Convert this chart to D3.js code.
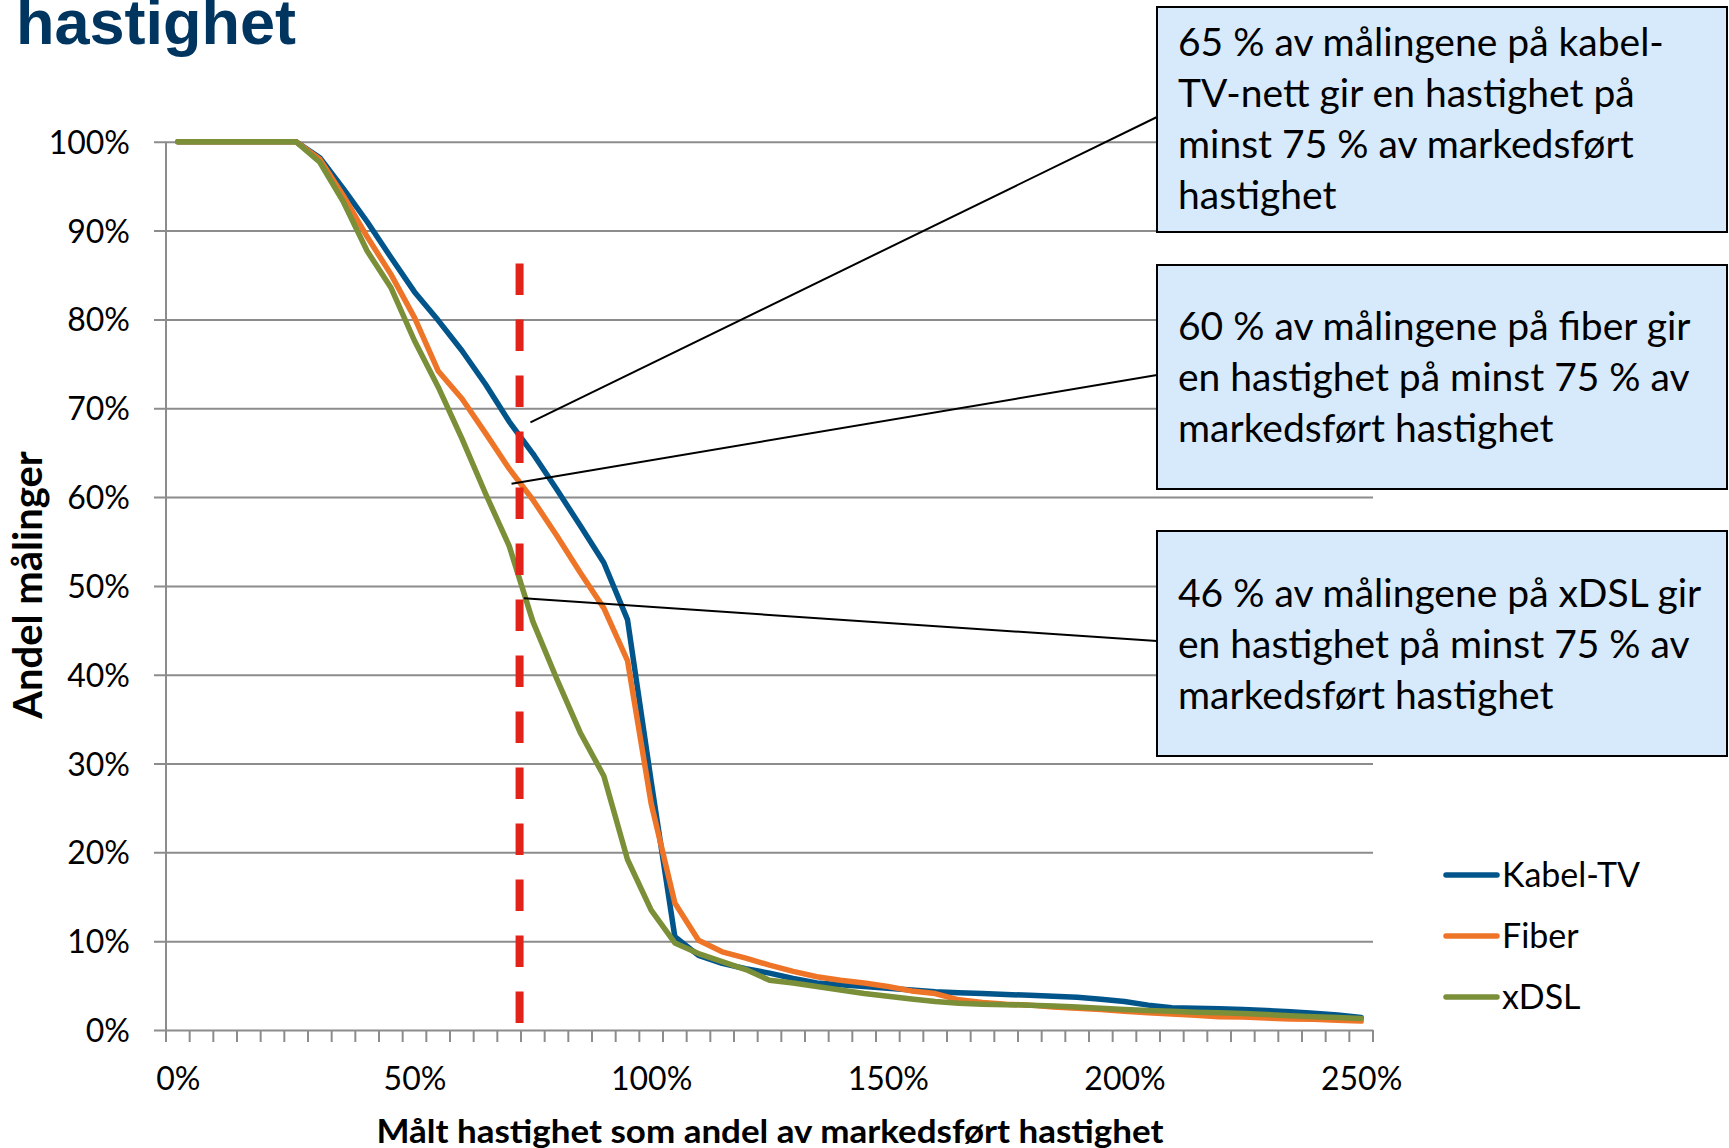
<!DOCTYPE html>
<html>
<head>
<meta charset="utf-8">
<script src="https://cdn.jsdelivr.net/npm/d3@7"></script>
<style>
  html, body { margin: 0; padding: 0; background: #ffffff; }
  svg { display: block; }
</style>
</head>
<body>
<div id="chart"></div>
<script>
// ---------------- DATA ----------------
const categories = [0,5,10,15,20,25,30,35,40,45,50,55,60,65,70,75,80,85,90,95,100,
  105,110,115,120,125,130,135,140,145,150,155,160,165,170,175,180,185,190,195,200,
  205,210,215,220,225,230,235,240,245,250];
const xTickLabels = ["0%","50%","100%","150%","200%","250%"];
const yTickLabels = ["0%","10%","20%","30%","40%","50%","60%","70%","80%","90%","100%"];
const seriesNames = ["Kabel-TV","Fiber","xDSL"];

const kabelTV = [100,100,100,100,100,100,98.2,94.7,91.0,87.0,83.1,79.9,76.5,72.7,68.5,64.9,60.9,56.8,52.6,46.2,
  28.0,10.5,8.4,7.5,6.9,6.4,5.8,5.3,5.1,4.9,4.7,4.5,4.3,4.2,4.1,4.0,3.9,3.8,3.7,3.45,
  3.2,2.8,2.5,2.45,2.4,2.3,2.2,2.05,1.9,1.7,1.4];
const fiber = [100,100,100,100,100,100,98.05,93.9,89.3,85.1,80.2,74.2,71.1,67.2,63.2,59.7,55.7,51.5,47.5,41.6,
  25.5,14.3,10.1,8.8,8.1,7.3,6.6,6.0,5.6,5.3,4.9,4.4,4.1,3.4,3.1,2.9,2.8,2.6,2.45,2.3,
  2.1,1.95,1.8,1.65,1.5,1.45,1.35,1.25,1.2,1.1,1.0];
const xdsl = [100,100,100,100,100,100,97.7,93.2,87.7,83.6,77.6,72.4,66.6,60.4,54.5,46.0,39.6,33.5,28.6,19.2,
  13.5,9.8,8.6,7.7,6.8,5.6,5.3,4.9,4.5,4.1,3.8,3.5,3.2,3.0,2.9,2.85,2.8,2.7,2.6,2.45,
  2.3,2.2,2.1,2.0,1.95,1.85,1.75,1.6,1.5,1.4,1.3];

const annotationTexts = [
  ["65 % av målingene på kabel-","TV-nett gir en hastighet på","minst 75 % av markedsført","hastighet"],
  ["60 % av målingene på fiber gir","en hastighet på minst 75 % av","markedsført hastighet"],
  ["46 % av målingene på xDSL gir","en hastighet på minst 75 % av","markedsført hastighet"]
];
// leader-line anchor points in data units (x in % of marketed speed, y in % of measurements)
const annotationAnchorX = [74.5, 70.5, 73.1];
const annotationAnchorY = [68.4, 61.5, 48.6];
// red dashed reference line (data units)
const refLineX = 72.2;
const refLineTop = 86.3;

const titleText = "hastighet";
const xTitle = "Målt hastighet som andel av markedsført hastighet";
const yTitle = "Andel målinger";

// ---------------- LAYOUT ----------------
const W = 1729, H = 1148;
const plot = {left: 166, right: 1373, top: 141.8, bottom: 1030};
const colors = ["#02558b", "#ee7427", "#7a8f37"];
const gridColor = "#8c8c8c";
const fontReg = "Lato, 'Open Sans', sans-serif";

const svg = d3.select("#chart").append("svg")
  .attr("width", W).attr("height", H).attr("viewBox", `0 0 ${W} ${H}`);

const xBand = d3.scaleBand().domain(categories).range([plot.left, plot.right]).paddingInner(0).paddingOuter(0);
const bw = xBand.bandwidth();
const xLin = d3.scaleLinear().domain([0, 250]).range([xBand(0) + bw / 2, xBand(250) + bw / 2]);
const y = d3.scaleLinear().domain([0, 100]).range([plot.bottom, plot.top]);

// Title
svg.append("text")
  .attr("x", 16).attr("y", 44)
  .attr("font-family", "'Liberation Sans', Arial, sans-serif")
  .attr("font-weight", "bold").attr("font-size", 63)
  .attr("fill", "#003560")
  .text(titleText);

// Gridlines (y axis) with outside ticks
const yTicks = d3.range(0, 101, 10);
const yAxis = d3.axisLeft(y).tickValues(yTicks)
  .tickFormat((d, i) => yTickLabels[i])
  .tickSize(-(plot.right - plot.left)).tickSizeOuter(0).tickPadding(36);
const gy = svg.append("g").attr("transform", `translate(${plot.left},0)`).call(yAxis);
gy.select(".domain").remove();
gy.selectAll(".tick line")
  .attr("x1", -12)
  .attr("stroke", gridColor).attr("stroke-width", 2);
gy.selectAll(".tick text")
  .attr("font-family", fontReg).attr("font-size", 32).attr("fill", "#000")
  .attr("x", 130 - plot.left).attr("dy", "0.36em");

// y axis line
svg.append("line")
  .attr("x1", plot.left).attr("x2", plot.left)
  .attr("y1", y(100)).attr("y2", y(0))
  .attr("stroke", gridColor).attr("stroke-width", 2);

// x axis: labels every 10 categories at band centres
const xAxis = d3.axisBottom(xLin)
  .tickValues(xTickLabels.map(s => parseFloat(s)))
  .tickFormat((d, i) => xTickLabels[i])
  .tickSize(0).tickPadding(0);
const gx = svg.append("g").attr("transform", `translate(0,${plot.bottom})`).call(xAxis);
gx.select(".domain").remove();
gx.selectAll(".tick text")
  .attr("font-family", fontReg).attr("font-size", 32).attr("fill", "#000")
  .attr("y", 60).attr("dy", 0);

// x tick marks between categories
const boundaries = categories.map(c => xBand(c)).concat([plot.right]);
svg.append("g").selectAll("line").data(boundaries).join("line")
  .attr("x1", d => d).attr("x2", d => d)
  .attr("y1", plot.bottom).attr("y2", plot.bottom + 12)
  .attr("stroke", gridColor).attr("stroke-width", 2);

// Series lines
const seriesData = [kabelTV, fiber, xdsl];
const line = d3.line()
  .x((d, i) => xBand(categories[i]) + bw / 2)
  .y(d => y(d));
svg.append("g").selectAll("path").data(seriesData).join("path")
  .attr("d", d => line(d))
  .attr("fill", "none")
  .attr("stroke", (d, i) => colors[i])
  .attr("stroke-width", 5.5)
  .attr("stroke-linejoin", "round")
  .attr("stroke-linecap", "round");

// Red dashed reference line
svg.append("line")
  .attr("x1", xLin(refLineX)).attr("x2", xLin(refLineX))
  .attr("y1", y(refLineTop)).attr("y2", y(0))
  .attr("stroke", "#e2231a").attr("stroke-width", 8)
  .attr("stroke-dasharray", "31.5,24.5");

// Axis titles
svg.append("text")
  .attr("x", 770).attr("y", 1143)
  .attr("text-anchor", "middle")
  .attr("font-family", fontReg).attr("font-weight", "bold").attr("font-size", 33)
  .attr("textLength", 787).attr("lengthAdjust", "spacingAndGlyphs")
  .text(xTitle);

svg.append("text")
  .attr("transform", "translate(42,585) rotate(-90)")
  .attr("text-anchor", "middle")
  .attr("font-family", fontReg).attr("font-weight", "bold").attr("font-size", 40)
  .text(yTitle);

// Annotation boxes
const boxes = [
  {x: 1157, y: 7, w: 570, h: 225, baseline: 56},
  {x: 1157, y: 265, w: 570, h: 224, baseline: 340},
  {x: 1157, y: 531, w: 570, h: 225, baseline: 607}
];
const boxLeaderY = [117, 375, 641];
const lineStep = 51;

const ann = svg.append("g");
annotationTexts.forEach((lines, k) => {
  const b = boxes[k];
  ann.append("line")
    .attr("x1", b.x).attr("y1", boxLeaderY[k])
    .attr("x2", xLin(annotationAnchorX[k])).attr("y2", y(annotationAnchorY[k]))
    .attr("stroke", "#000").attr("stroke-width", 2);
});
annotationTexts.forEach((lines, k) => {
  const b = boxes[k];
  ann.append("rect")
    .attr("x", b.x).attr("y", b.y).attr("width", b.w).attr("height", b.h)
    .attr("fill", "#d6eafc").attr("stroke", "#000").attr("stroke-width", 2);
  const t = ann.append("text")
    .attr("font-family", fontReg).attr("font-size", 39).attr("fill", "#000");
  lines.forEach((s, j) => {
    t.append("tspan").attr("x", b.x + 21).attr("y", b.baseline + j * lineStep).text(s);
  });
});

// Legend
const legendY = [875, 936, 997];
const lg = svg.append("g");
seriesNames.forEach((name, i) => {
  lg.append("line")
    .attr("x1", 1446).attr("x2", 1497)
    .attr("y1", legendY[i]).attr("y2", legendY[i])
    .attr("stroke", colors[i]).attr("stroke-width", 5.5).attr("stroke-linecap", "round");
  lg.append("text")
    .attr("x", 1502).attr("y", legendY[i] + 12)
    .attr("font-family", fontReg).attr("font-size", 34).attr("fill", "#000")
    .text(name);
});
</script>
</body>
</html>
